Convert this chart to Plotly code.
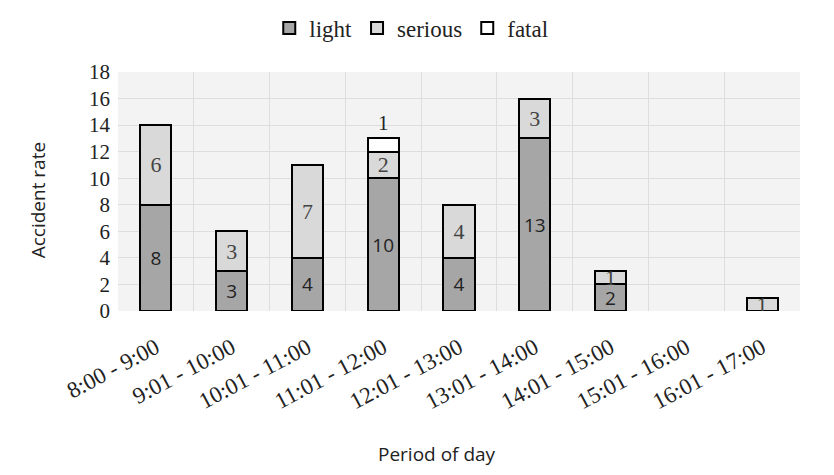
import plotly.graph_objects as go

periods = ["8:00 - 9:00", "9:01 - 10:00", "10:01 - 11:00", "11:01 - 12:00",
           "12:01 - 13:00", "13:01 - 14:00", "14:01 - 15:00", "15:01 - 16:00",
           "16:01 - 17:00"]
light = [8, 3, 4, 10, 4, 13, 2, 0, 0]
serious = [6, 3, 7, 2, 4, 3, 1, 0, 1]
fatal = [0, 0, 0, 1, 0, 0, 0, 0, 0]


def heights(vals):
    # empty segments are not drawn at all
    return [v if v else None for v in vals]


def labels(vals):
    return [str(v) if v else "" for v in vals]


serif = "Liberation Serif"
sans = "Open Sans"
edge = dict(color="black", width=2)

fig = go.Figure()
fig.add_trace(go.Bar(x=periods, y=heights(light), name="light", width=0.41,
                     marker=dict(color="#a6a6a6", line=edge),
                     text=labels(light), textposition="inside", constraintext="none",
                     insidetextanchor="middle", textangle=0,
                     textfont=dict(family=sans, size=19, color="#222")))
fig.add_trace(go.Bar(x=periods, y=heights(serious), name="serious", width=0.41,
                     marker=dict(color="#d9d9d9", line=edge),
                     text=labels(serious), textposition="inside", constraintext="none",
                     insidetextanchor="middle", textangle=0,
                     textfont=dict(family=serif, size=22, color="#444")))
fig.add_trace(go.Bar(x=periods, y=heights(fatal), name="fatal", width=0.41,
                     marker=dict(color="white", line=edge),
                     text=labels(fatal), textposition="outside", cliponaxis=False,
                     textangle=0,
                     textfont=dict(family=serif, size=21, color="#222")))

# axis titles placed by hand, they sit off-centre in the original
fig.add_annotation(text="Period of day", xref="paper", yref="paper", x=0.468, y=-0.6,
                   xanchor="center", yanchor="middle", showarrow=False,
                   font=dict(family=sans, size=19, color="#222"))
fig.add_annotation(text="Accident rate", xref="paper", yref="paper", x=-0.117, y=0.464,
                   xanchor="center", yanchor="middle", showarrow=False, textangle=-90,
                   font=dict(family=sans, size=19, color="#222"))

fig.update_layout(
    width=834, height=475,
    barmode="stack",
    paper_bgcolor="white",
    plot_bgcolor="#f3f3f3",
    margin=dict(l=110, r=42, t=64, b=172),
    legend=dict(orientation="h", x=0.43, xanchor="center",
                yref="container", y=0.958, yanchor="middle",
                font=dict(family=serif, size=23, color="#222"),
                itemwidth=30, traceorder="normal"),
    xaxis=dict(tickangle=-28, tickson="boundaries", showgrid=True, gridcolor="#dddddd",
               ticks="", tickfont=dict(family=serif, size=23, color="#222"),
               automargin=False, ticklabelstandoff=18),
    yaxis=dict(range=[0, 18], dtick=2, showgrid=True, gridcolor="#dddddd", zeroline=False,
               automargin=False, ticklabelstandoff=7,
               tickfont=dict(family=serif, size=21, color="#222"), ticks=""),
)

fig.write_html("out.html")
